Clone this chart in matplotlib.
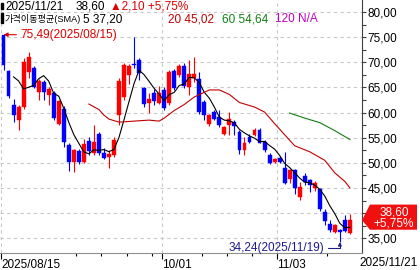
import matplotlib
matplotlib.use('Agg')
import matplotlib.pyplot as plt
import numpy as np
from matplotlib.patches import Polygon, Rectangle
from matplotlib.transforms import blended_transform_factory

# daily candles 2025/08/15 .. 2025/11/21 (70 bars)
opens = [75.49, 68.2, 61.6, 58.5, 61.1, 68.1, 68.9, 64.1, 66.0, 63.5,
         63.8, 57.8, 60.8, 53.6, 50.1, 52.3, 50.2, 54.3, 51.9, 55.8,
         52.0, 51.2, 51.5, 59.5, 63.1, 67.4, 69.7, 70.4, 64.8, 62.0,
         63.9, 62.0, 64.5, 62.0, 68.2, 67.5, 69.3, 65.1, 66.8, 66.6,
         62.1, 57.7, 60.1, 59.1, 55.7, 57.5, 58.2, 56.2, 52.6, 55.2,
         55.6, 56.5, 54.2, 51.5, 50.2, 50.9, 49.0, 46.7, 48.5, 43.2,
         47.3, 46.5, 44.9, 44.7, 40.2, 37.9, 36.2, 36.6, 38.6, 36.1]
highs = [75.49, 68.4, 62.7, 61.5, 70.8, 72.1, 69.2, 66.6, 66.5, 65.1,
         64.2, 62.6, 61.3, 54.0, 52.8, 52.8, 54.7, 55.2, 57.5, 56.2,
         53.0, 52.5, 55.2, 66.8, 69.8, 69.6, 75.1, 70.8, 65.1, 63.8,
         64.6, 65.3, 65.0, 68.5, 68.6, 69.6, 69.8, 70.4, 71.0, 68.1,
         62.5, 59.8, 60.6, 60.6, 57.4, 60.1, 58.6, 56.6, 55.2, 55.8,
         57.0, 56.9, 54.5, 51.9, 51.0, 51.3, 52.2, 48.7, 48.8, 46.2,
         47.9, 46.8, 46.3, 45.0, 40.9, 38.6, 37.9, 36.9, 39.6, 39.9]
lows = [68.4, 62.8, 58.1, 56.6, 60.8, 66.8, 64.8, 62.5, 62.5, 61.5,
        58.5, 57.5, 53.2, 48.3, 48.2, 49.7, 49.9, 51.5, 51.5, 51.5,
        50.7, 48.9, 51.2, 57.5, 62.5, 65.6, 68.8, 66.5, 61.1, 60.0,
        61.5, 61.8, 60.5, 61.5, 64.5, 67.0, 64.8, 63.5, 66.0, 59.8,
        58.5, 57.3, 58.5, 57.1, 55.5, 55.5, 55.5, 51.7, 51.5, 53.9,
        55.3, 53.9, 52.2, 49.7, 50.0, 49.9, 45.8, 46.0, 43.9, 42.7,
        45.5, 44.2, 44.5, 40.5, 37.7, 36.2, 36.0, 34.24, 36.2, 35.9]
closes = [69.4, 63.3, 59.6, 61.1, 70.1, 71.1, 65.1, 66.3, 64.1, 64.7,
          58.9, 62.3, 54.2, 50.2, 52.5, 50.2, 53.8, 52.3, 54.2, 51.9,
          51.0, 51.7, 54.5, 66.2, 69.4, 69.2, 69.5, 67.8, 61.8, 62.7,
          62.3, 63.8, 61.0, 68.1, 64.8, 69.2, 65.3, 67.6, 67.6, 60.1,
          59.5, 59.5, 58.8, 57.5, 57.2, 58.8, 57.3, 52.5, 54.0, 54.2,
          56.5, 54.0, 52.6, 49.9, 50.7, 50.2, 46.0, 48.5, 44.9, 45.2,
          46.2, 45.5, 45.9, 40.9, 38.4, 36.6, 37.6, 36.3, 36.5, 38.6]

# moving averages
sma5 = [np.nan, np.nan, 67.1, 66.3, 64.70, 65.04, 65.40, 66.74, 67.34, 66.26,
        63.82, 63.26, 60.84, 58.06, 55.62, 53.88, 52.18, 51.80, 52.60, 52.48,
        52.64, 52.22, 52.66, 55.06, 58.56, 62.20, 65.76, 68.42, 67.54, 66.20,
        64.82, 63.68, 62.32, 63.58, 64.00, 65.38, 65.68, 67.00, 66.90, 65.96,
        64.02, 62.86, 61.10, 59.08, 58.50, 58.36, 57.92, 56.66, 55.96, 55.36,
        54.90, 54.24, 54.26, 53.44, 52.74, 51.48, 49.88, 49.06, 48.06, 46.96,
        46.16, 46.06, 45.54, 44.74, 43.38, 41.46, 39.88, 37.96, 37.08, 37.20]
sma20_x = [17, 19, 20, 21, 23, 26, 29, 31, 32, 34, 36, 38, 41, 43, 45, 47,
           50, 52, 54, 56, 58, 61, 64, 66, 68, 69]
sma20_y = [61.7, 60.6, 59.5, 58.7, 58.1, 58.3, 58.5, 58.3, 58.9, 60.4, 61.6,
           63.1, 64.5, 64.5, 63.6, 62.0, 61.1, 60.1, 57.8, 55.6, 53.4, 52.2,
           50.5, 48.0, 46.3, 45.02]
sma60_x = [57, 60, 63, 66, 69]
sma60_y = [59.9, 58.9, 58.0, 56.4, 54.64]

date_ticks = [0, 32, 55]
date_labels = ['2025/08/15', '10/01', '11/03']
week_ticks = [15, 20, 25, 30, 40, 45, 50, 65]
last_date = '2025/11/21'
change = '2,10'
change_pct = '+5,75%'
ma_labels = ['5 37,20', '20 45,02', '60 54,64', '120 N/A']

UP = '#ff0000'
DOWN = '#0000ff'
GRID = '#c8c8c8'
FONT = ['Liberation Sans', 'DejaVu Sans']
FS = 8.5


def fmt(v):
    return f'{v:.2f}'.replace('.', ',')


def px(x, y):
    return x / 420, 1 - y / 270


fig = plt.figure(figsize=(4.2, 2.7), dpi=100)
ax = fig.add_axes([0, 17 / 270, 362 / 420, 253 / 270])
ax.set_xlim(-0.7, 71.41)
ax.set_ylim(32.07, 82.39)

idx = np.arange(len(closes))
o = np.array(opens)
c = np.array(closes)
up = c >= o
cols = np.where(up, UP, DOWN)

ax.vlines(idx, lows, highs, colors=cols, lw=0.8, zorder=3)
body_lo = np.minimum(o, c)
body_h = np.maximum(np.abs(c - o), 0.2)
ax.bar(idx, body_h, bottom=body_lo, width=0.78, color=cols, edgecolor=cols,
       lw=0.3, zorder=4)

ax.plot(idx, sma5, color='black', lw=0.8, zorder=5)
ax.plot(sma20_x, sma20_y, color='#c00000', lw=0.8, zorder=5)
ax.plot(sma60_x, sma60_y, color='#108010', lw=0.8, zorder=5)

# axes styling
for s in ['top', 'left']:
    ax.spines[s].set_visible(False)
ax.spines['right'].set_color('#404040')
ax.spines['bottom'].set_color('#909090')
ax.yaxis.tick_right()
last = closes[-1]
yt = np.arange(35, 81, 5)
ax.set_yticks(yt)
# the label under the last-price tag is hidden, as in the original
ax.set_yticklabels(['' if abs(v - last) < 3 else fmt(v) for v in yt],
                   family=FONT, fontsize=FS)
ax.set_yticks(np.arange(37.5, 80, 5), minor=True)
ax.tick_params(axis='y', which='both', length=3, width=0.8, color='#404040', pad=1)

ax.set_xticks([t - 0.5 for t in date_ticks])
ax.set_xticklabels(date_labels, family=FONT, fontsize=FS)
for lbl in ax.get_xticklabels():
    lbl.set_ha('left')
ax.set_xticks([t - 0.5 for t in week_ticks], minor=True)
ax.tick_params(axis='x', which='major', length=4, width=0.8, pad=0.5)
ax.tick_params(axis='x', which='minor', length=2.5, width=0.8)

ax.grid(True, which='major', color=GRID, lw=0.8, ls=(0, (3, 3)), zorder=0)
ax.set_axisbelow(True)

fig.text(418 / 420, px(0, 263)[1], last_date, ha='right', va='center',
         family=FONT, fontsize=FS)

# highest / lowest markers
hi = int(np.argmax(highs))
ax.annotate(fmt(highs[hi]) + '(' + date_labels[0] + ')', xy=(hi, highs[hi]),
            xytext=(17, 0), textcoords='offset pixels', ha='left', va='center',
            color='#e00000', family=FONT, fontsize=FS,
            arrowprops=dict(arrowstyle='-|>', color='#e00000', lw=0.8,
                            mutation_scale=6, shrinkA=1, shrinkB=0,
                            relpos=(0, 0.5)))
lo = int(np.argmin(lows))
ax.annotate(fmt(lows[lo]) + '(2025/11/19)', xy=(lo, lows[lo]),
            xytext=(-16, -6), textcoords='offset pixels', ha='right', va='center',
            color='#1c1c8c', family=FONT, fontsize=FS,
            arrowprops=dict(arrowstyle='-|>', color='#1c1c8c', lw=0.8,
                            mutation_scale=5, shrinkA=1, shrinkB=0,
                            relpos=(1, 0.5),
                            connectionstyle='angle,angleA=0,angleB=90,rad=0'))

# last price tag
tr = blended_transform_factory(ax.transAxes, ax.transData)
tag = Polygon([(1.0, last), (1.022, last + 3.1), (1.152, last + 3.1),
               (1.152, last - 1.9), (1.022, last - 1.9)], closed=True,
              transform=tr, facecolor='#f01010', edgecolor='none')
fig.add_artist(tag)
fig.text(1.088, last + 1.6, fmt(last), transform=tr, ha='center', va='center',
         color='white', family=FONT, fontsize=FS)
fig.text(1.088, last - 0.75, change_pct, transform=tr, ha='center', va='center',
         color='white', family=FONT, fontsize=FS)

# header lines
for yy in [(2.7, 9.3), (13.3, 22.7)]:
    x0, y0 = px(1, yy[1])
    fig.add_artist(Rectangle((x0, y0), 2.3 / 420, (yy[1] - yy[0]) / 270,
                             transform=fig.transFigure, color='black'))
fig.text(*px(5, 9.6), last_date, family=FONT, fontsize=FS, va='baseline')
fig.text(*px(76, 9.6), fmt(last), family=FONT, fontsize=FS, va='baseline')
fig.text(*px(110, 9.6), '\u25b2' + change + ' ' + change_pct, family=FONT,
         fontsize=FS, va='baseline', color='#e00000')
fig.text(*px(5, 22.2), '가격이동평균(SMA)',
         family=['Liberation Sans', 'Noto Sans CJK KR'], fontsize=6.6,
         va='baseline')
ma_cols = ['black', '#c00000', '#108010', '#c000c0']
for xx, s, col in zip([83, 168, 222, 275], ma_labels, ma_cols):
    fig.text(*px(xx, 22.2), s, family=FONT, fontsize=FS, va='baseline', color=col)

fig.savefig('out.png', dpi=100)
